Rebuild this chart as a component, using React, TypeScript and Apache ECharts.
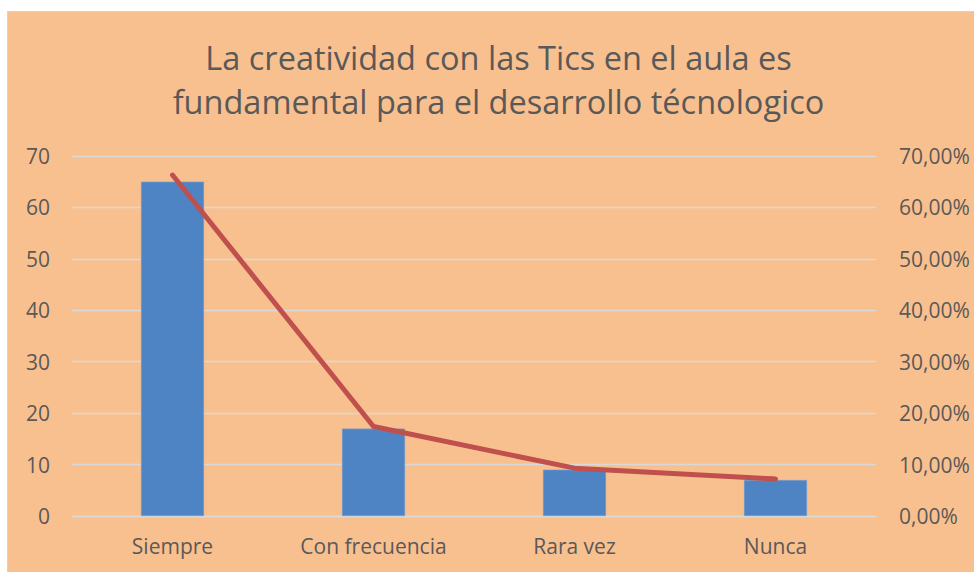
import React, { useEffect, useRef } from "react";
import * as echarts from "echarts";

const categories = ["Siempre", "Con frecuencia", "Rara vez", "Nunca"];
const counts = [65, 17, 9, 7];
const percentages = [0.663, 0.174, 0.093, 0.072];
const titleText = "La creatividad con las Tics en el aula es\nfundamental para el desarrollo técnologico";

const FONT = "'Open Sans', 'Noto Sans', sans-serif";
const TEXT = "#595959";
const GRID = "#D9D9D9";

export default function App() {
  const ref = useRef<HTMLDivElement>(null);
  useEffect(() => {
    if (!ref.current) return;
    const chart = echarts.init(ref.current, undefined, { renderer: "svg" });
    chart.setOption({
      animation: false,
      backgroundColor: "transparent",
      textStyle: { fontFamily: FONT },
      title: {
        text: titleText,
        left: "center",
        top: 23,
        padding: 0,
        textStyle: {
          fontFamily: FONT,
          fontSize: 32.5,
          fontWeight: "normal",
          color: TEXT,
          lineHeight: 44,
        },
      },
      grid: { left: 64, right: 113, top: 144, bottom: 68, containLabel: false },
      xAxis: {
        type: "category",
        data: categories,
        axisLine: { show: true, lineStyle: { color: GRID, width: 1.3 } },
        axisTick: { show: false },
        axisLabel: { color: TEXT, fontSize: 21, fontFamily: FONT, margin: 19 },
      },
      yAxis: [
        {
          type: "value",
          min: 0,
          max: 70,
          interval: 10,
          axisLine: { show: false },
          axisTick: { show: false },
          splitLine: { lineStyle: { color: GRID, width: 1.3 } },
          axisLabel: { color: TEXT, fontSize: 21, fontFamily: FONT, margin: 22 },
        },
        {
          type: "value",
          min: 0,
          max: 0.7,
          interval: 0.1,
          position: "right",
          axisLine: { show: false },
          axisTick: { show: false },
          splitLine: { show: false },
          axisLabel: {
            color: TEXT,
            fontSize: 21,
            fontFamily: FONT,
            margin: 23,
            formatter: (v: number) => (v * 100).toFixed(2).replace(".", ",") + "%",
          },
        },
      ],
      series: [
        {
          type: "bar",
          data: counts,
          yAxisIndex: 0,
          barWidth: 63,
          itemStyle: { color: "#4F84C4", borderColor: "#6A95CC", borderWidth: 0.8 },
        },
        {
          type: "line",
          data: percentages,
          yAxisIndex: 1,
          symbol: "none",
          lineStyle: { color: "#C0504D", width: 5, cap: "round", join: "round" },
        },
      ],
    });
    return () => chart.dispose();
  }, []);

  return (
    <div
      style={{
        position: "fixed",
        left: 7,
        top: 11,
        width: 967,
        height: 561,
        boxSizing: "border-box",
        borderLeft: "1.5px solid #D4D4D4",
        borderTop: "1.5px solid #D4D4D4",
        background: "#F9C08F",
        overflow: "hidden",
      }}
    >
      <div ref={ref} style={{ width: 981, height: 572 }} />
    </div>
  );
}
